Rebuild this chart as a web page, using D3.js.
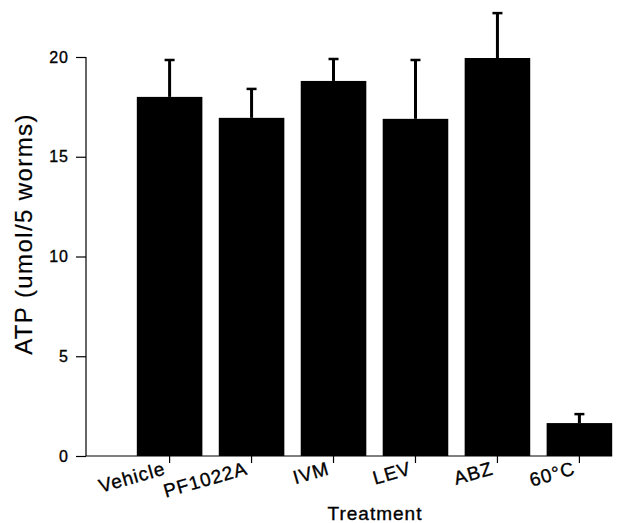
<!DOCTYPE html>
<html>
<head>
<meta charset="utf-8">
<script src="https://cdn.jsdelivr.net/npm/d3@7/dist/d3.min.js"></script>
<style>
  body { margin: 0; background: #fff; }
  text { font-family: "Liberation Sans", Arial, Helvetica, sans-serif; fill: #000; stroke: #000; stroke-width: 0.35px; }
</style>
</head>
<body>
<div id="chart"></div>
<script>
'use strict';

// treatments and ATP values (umol / 5 worms)
var treatments = ["Vehicle", "PF1022A", "IVM", "LEV", "ABZ", "60°C"];
var atpMean = [18.0, 16.95, 18.8, 16.9, 19.95, 1.65];
var atpErr = [1.85, 1.45, 1.1, 2.95, 2.25, 0.45];
var yTicks = [0, 5, 10, 15, 20];

var svgWidth = 628, svgHeight = 523;
var axisX = 86, baseY = 456, topY = 57;

var data = treatments.map(function(t, i) {
  return { name: t, mean: atpMean[i], err: atpErr[i] };
});

var svg = d3.select("#chart")
  .append("svg")
  .attr("width", svgWidth)
  .attr("height", svgHeight);

var y = d3.scaleLinear()
  .domain([0, 20])
  .range([baseY, topY]);

var x = d3.scaleBand()
  .domain(treatments)
  .range([axisX, 663])
  .paddingInner(0.2)
  .paddingOuter(0.62);

// y axis
var yAxisG = svg.append("g")
  .attr("transform", "translate(" + axisX + ",0)")
  .call(d3.axisLeft(y).tickValues(yTicks).tickSize(10).tickPadding(7));
yAxisG.select(".domain").attr("stroke", "#000").attr("stroke-width", 1.2)
  .attr("d", "M0," + topY + "V" + baseY);
yAxisG.selectAll(".tick line").attr("stroke", "#000").attr("stroke-width", 1.2);
yAxisG.selectAll(".tick text")
  .style("font-size", "16px")
  .style("letter-spacing", "1px")
  .attr("fill", "#000");

// baseline
svg.append("line")
  .attr("x1", axisX)
  .attr("x2", x(treatments[treatments.length - 1]) + x.bandwidth())
  .attr("y1", baseY)
  .attr("y2", baseY)
  .attr("stroke", "#000")
  .attr("stroke-width", 1.2);

// bars
svg.selectAll("rect.bar")
  .data(data)
  .enter().append("rect")
  .attr("class", "bar")
  .attr("x", function(d) { return x(d.name); })
  .attr("y", function(d) { return y(d.mean); })
  .attr("width", x.bandwidth())
  .attr("height", function(d) { return baseY - y(d.mean); })
  .attr("fill", "#000");

// error bars (upper only)
var errG = svg.selectAll("g.err")
  .data(data)
  .enter().append("g")
  .attr("class", "err");

errG.append("line")
  .attr("x1", function(d) { return x(d.name) + x.bandwidth() / 2; })
  .attr("x2", function(d) { return x(d.name) + x.bandwidth() / 2; })
  .attr("y1", function(d) { return y(d.mean); })
  .attr("y2", function(d) { return y(d.mean + d.err); })
  .attr("stroke", "#000")
  .attr("stroke-width", 3);

errG.append("line")
  .attr("x1", function(d) { return x(d.name) + x.bandwidth() / 2 - 5; })
  .attr("x2", function(d) { return x(d.name) + x.bandwidth() / 2 + 5; })
  .attr("y1", function(d) { return y(d.mean + d.err); })
  .attr("y2", function(d) { return y(d.mean + d.err); })
  .attr("stroke", "#000")
  .attr("stroke-width", 2.5);

// x ticks and rotated labels
var xTick = svg.selectAll("g.xtick")
  .data(treatments)
  .enter().append("g")
  .attr("class", "xtick")
  .attr("transform", function(d) {
    return "translate(" + (x(d) + x.bandwidth() / 2) + "," + baseY + ")";
  });

xTick.append("line")
  .attr("y1", 0)
  .attr("y2", 7)
  .attr("stroke", "#000")
  .attr("stroke-width", 1.2);

xTick.append("text")
  .attr("transform", "translate(-3,18) rotate(-16)")
  .attr("text-anchor", "end")
  .style("font-size", "19px")
  .style("letter-spacing", "1px")
  .text(function(d) { return d; });

// axis titles
svg.append("text")
  .attr("transform", "translate(32,234) rotate(-90)")
  .attr("text-anchor", "middle")
  .style("font-size", "24px")
  .style("letter-spacing", "1.4px")
  .style("stroke-width", "0.2px")
  .text("ATP (umol/5 worms)");

svg.append("text")
  .attr("x", 375)
  .attr("y", 520)
  .attr("text-anchor", "middle")
  .style("font-size", "19px")
  .style("letter-spacing", "1px")
  .text("Treatment");
</script>
</body>
</html>
